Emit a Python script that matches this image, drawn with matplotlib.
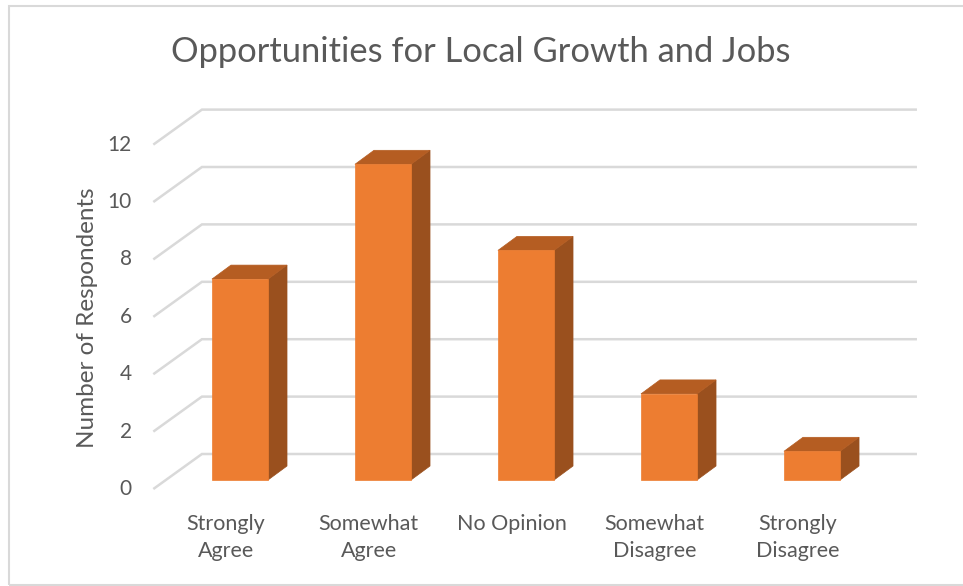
import matplotlib
matplotlib.use("Agg")
import matplotlib.pyplot as plt
from matplotlib.patches import Polygon, Rectangle

# Survey data
categories = ["Strongly\nAgree", "Somewhat\nAgree", "No Opinion", "Somewhat\nDisagree", "Strongly\nDisagree"]
respondents = [7, 11, 8, 3, 1]
y_ticks = [0, 2, 4, 6, 8, 10, 12]
title = "Opportunities for Local Growth and Jobs"
y_label = "Number of Respondents"

plt.rcParams["font.family"] = ["Lato", "DejaVu Sans"]
TEXT = "#595959"
GRID = "#D9D9D9"
FRONT = "#ED7D31"
TOP = "#B55D22"
SIDE = "#9A501E"

fig = plt.figure(figsize=(9.63, 5.86), dpi=100)
ax = fig.add_axes([0, 0, 1, 1])
ax.set_xlim(-1.678, 5.056)
ax.set_ylim(-3.693, 16.725)
ax.axis("off")

# chart frame
fig.patches.append(Rectangle((9 / 963, 1 / 586), 1.2, 579 / 586, transform=fig.transFigure,
                             fill=False, edgecolor="#D9D9D9", linewidth=1.5))

# oblique projection offsets (in data units)
bar_w = 0.392
bar_dx, bar_dy = 0.133, 0.488          # depth of each column
wall_dx, wall_dy = 0.252, 0.906        # back wall behind the column fronts
side_dx, side_dy = -0.088, -0.314      # front edge of the side wall
wall_right = 4.734

# gridlines: side wall diagonal + back wall horizontal
for v in y_ticks:
    bx, by = -0.266, v + wall_dy
    fx, fy = bx - (wall_dx - side_dx), v + side_dy
    ax.plot([fx, bx, wall_right], [fy, by, by], color=GRID, lw=1.8,
            solid_capstyle="butt", solid_joinstyle="miter", zorder=1)
    ax.text(fx - 0.15, v + side_dy, str(v), ha="right", va="center",
            fontsize=15, color=TEXT)

# columns
for i, v in enumerate(respondents):
    x0 = i - bar_w / 2
    x1 = i + bar_w / 2
    front = [(x0, 0), (x1, 0), (x1, v), (x0, v)]
    top = [(x0, v), (x1, v), (x1 + bar_dx, v + bar_dy), (x0 + bar_dx, v + bar_dy)]
    side = [(x1, 0), (x1 + bar_dx, bar_dy), (x1 + bar_dx, v + bar_dy), (x1, v)]
    for pts, c in ((side, SIDE), (top, TOP), (front, FRONT)):
        ax.add_patch(Polygon(pts, closed=True, facecolor=c, edgecolor=c, lw=0.5, zorder=3))
    ax.text(i - 0.1, -1.18, categories[i], ha="center", va="top", multialignment="center",
            fontsize=15.5, color=TEXT, linespacing=1.45)

ax.text(1.685, 14.92, title, ha="center", va="center", fontsize=24.8, color=TEXT)
ax.text(-1.063, 5.64, y_label, ha="center", va="center", rotation=90,
        fontsize=17.5, color=TEXT)

fig.savefig("out.png", dpi=100)
